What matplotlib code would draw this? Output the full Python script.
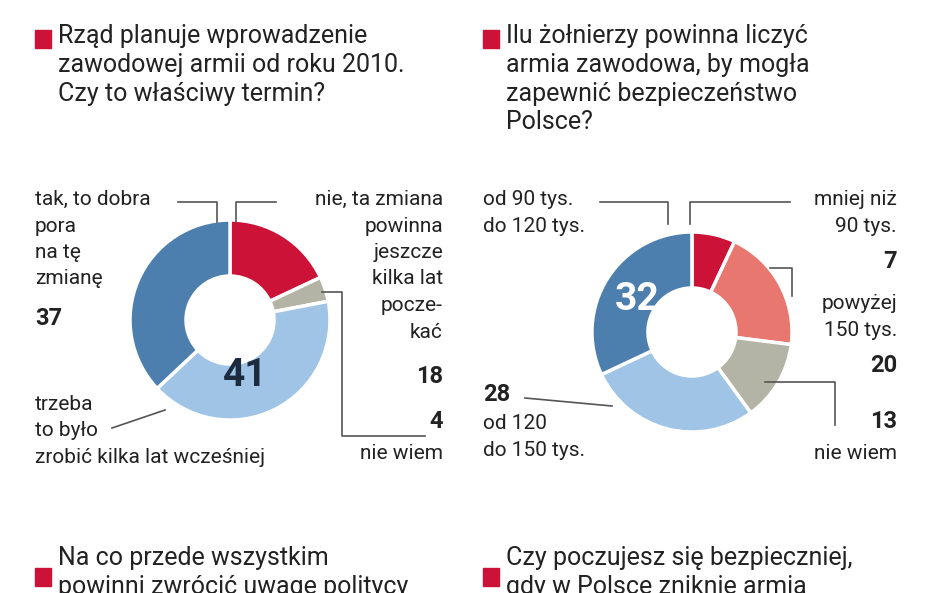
import numpy as np
import matplotlib.pyplot as plt

plt.rcParams["font.family"] = "Roboto"

left_labels = ["nie", "nie wiem", "trzeba", "tak"]
left_values = [18, 4, 41, 37]
left_colors = ["#cc1236", "#b4b4a6", "#9fc4e6", "#4d7fae"]

right_labels = ["mniej", "powyzej", "nie wiem", "120-150", "90-120"]
right_values = [7, 20, 13, 28, 32]
right_colors = ["#cc1236", "#e8786f", "#b4b4a6", "#9fc4e6", "#4d7fae"]

W, H = 948, 593
fig = plt.figure(figsize=(W / 100, H / 100), dpi=100)
ax = fig.add_axes([0, 0, 1, 1])
ax.axis("off")

def Y(y):
    return H - y

def donut(cx, cy, values, colors, explode):
    ax.pie(values, colors=colors, startangle=90, counterclock=False,
           center=(cx, Y(cy)), radius=100, explode=explode,
           wedgeprops=dict(width=56, edgecolor="white", linewidth=2.5))

donut(230, 320, left_values, left_colors, [0, 0, 0.05, 0])
donut(692, 332, right_values, right_colors, [0, 0, 0, 0, 0.06])
ax.set_xlim(0, W)
ax.set_ylim(0, H)
ax.set_aspect("equal")

txt = dict(fontsize=15, color="#222222", va="top", linespacing=1.5)
num = dict(fontsize=17, fontweight="bold", color="#222222", va="top")
title = dict(fontsize=18, color="#222222", va="top", linespacing=1.25)

def square(x, y):
    ax.add_patch(plt.Rectangle((x, Y(y) - 18), 16, 18, color="#cc1236"))

square(35, 30)
ax.text(58, Y(24), "Rząd planuje wprowadzenie\nzawodowej armii od roku 2010.\nCzy to właściwy termin?", **title)
square(483, 30)
ax.text(506, Y(24), "Ilu żołnierzy powinna liczyć\narmia zawodowa, by mogła\nzapewnić bezpieczeństwo\nPolsce?", **title)
square(35, 568)
ax.text(58, Y(546), "Na co przede wszystkim\npowinni zwrócić uwagę politycy", **title)
square(483, 568)
ax.text(506, Y(546), "Czy poczujesz się bezpieczniej,\ngdy w Polsce zniknie armia", **title)

# left donut labels
ax.text(35, Y(190), "tak, to dobra\npora\nna tę\nzmianę", **txt)
ax.text(35, Y(307), str(left_values[3]), **num)
ax.text(443, Y(190), "nie, ta zmiana\npowinna\njeszcze\nkilka lat\npocze-\nkać", ha="right", **txt)
ax.text(443, Y(365), str(left_values[0]), ha="right", **num)
ax.text(443, Y(410), str(left_values[1]), ha="right", **num)
ax.text(443, Y(444), "nie wiem", ha="right", **txt)
ax.text(35, Y(395), "trzeba\nto było\nzrobić kilka lat wcześniej", **txt)
ax.text(245, Y(375), str(left_values[2]), ha="center", va="center", fontsize=28, fontweight="bold", color="#1c2b3d")

lc = "#555555"
ax.plot([178, 217, 217], [Y(202), Y(202), Y(222)], color=lc, lw=1.2)
ax.plot([276, 236, 236], [Y(202), Y(202), Y(222)], color=lc, lw=1.2)
ax.plot([322, 342, 342, 425], [Y(292), Y(292), Y(436), Y(436)], color=lc, lw=1.2)
ax.plot([112, 165], [Y(428), Y(410)], color=lc, lw=1.2)

# right donut labels
ax.text(483, Y(190), "od 90 tys.\ndo 120 tys.", **txt)
ax.text(637, Y(300), str(right_values[4]), ha="center", va="center", fontsize=28, fontweight="bold", color="white")
ax.text(897, Y(190), "mniej niż\n90 tys.", ha="right", **txt)
ax.text(897, Y(250), str(right_values[0]), ha="right", **num)
ax.text(897, Y(294), "powyżej\n150 tys.", ha="right", **txt)
ax.text(897, Y(354), str(right_values[1]), ha="right", **num)
ax.text(897, Y(410), str(right_values[2]), ha="right", **num)
ax.text(897, Y(444), "nie wiem", ha="right", **txt)
ax.text(483, Y(383), str(right_values[3]), **num)
ax.text(483, Y(414), "od 120\ndo 150 tys.", **txt)

ax.plot([600, 668, 668], [Y(202), Y(202), Y(224)], color=lc, lw=1.2)
ax.plot([790, 690, 690], [Y(202), Y(202), Y(224)], color=lc, lw=1.2)
ax.plot([770, 792, 792], [Y(268), Y(268), Y(296)], color=lc, lw=1.2)
ax.plot([765, 835, 835], [Y(382), Y(382), Y(425)], color=lc, lw=1.2)
ax.plot([525, 612], [Y(398), Y(406)], color=lc, lw=1.2)

fig.savefig("out.png", dpi=100, facecolor="white")
